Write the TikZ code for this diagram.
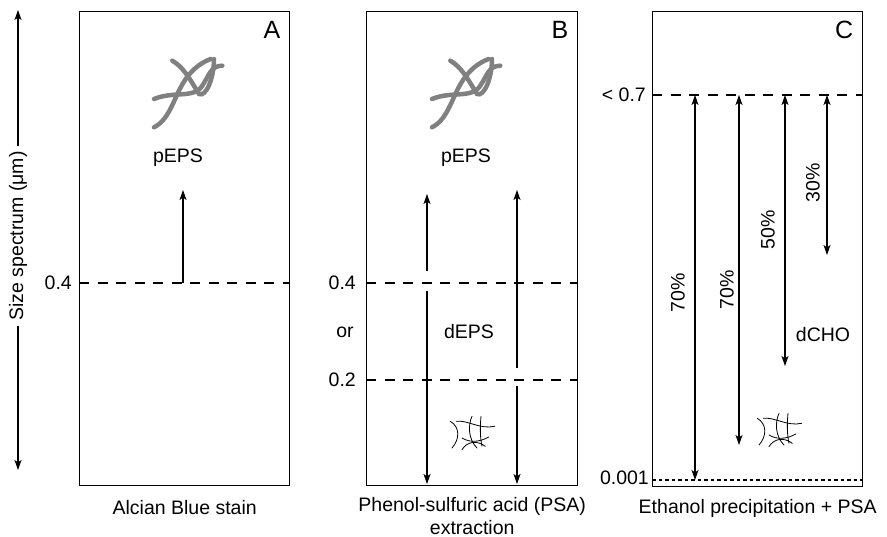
\documentclass[tikz,border=0pt]{standalone}
\usepackage{fontspec}
\setmainfont{Liberation Sans}
\usetikzlibrary{arrows.meta}
\begin{document}
\begin{tikzpicture}[x=1pt,y=-1pt,
  panel/.style={draw=black,line width=1.4pt},
  level/.style={line width=1.3pt,dash pattern=on 10pt off 8.5pt},
  finelevel/.style={line width=1.2pt,dash pattern=on 3.5pt off 3pt},
  tip/.tip={Stealth[length=10pt,width=7pt,inset=2.5pt]},
  arr/.style={line width=1.1pt,-tip},
  darr/.style={line width=1.1pt,tip-tip},
  lbl/.style={font=\fontsize{19.5}{23}\selectfont,inner sep=0pt},
  tag/.style={font=\fontsize{25}{29}\selectfont,inner sep=0pt},
  fibre/.style={draw=black!50,line width=4.5pt,line cap=round},
  mesh/.style={draw=black,line width=0.8pt,line cap=round},
  pics/fibres/.style={code={
    \draw[fibre] (-34,33.3) .. controls (-17.3,25) and (-14,1.7) .. (-2.3,-15)
                 .. controls (6,-26.7) and (14.3,-31.7) .. (22.7,-35);
    \draw[fibre] (-34,5) .. controls (-14,-3.3) and (6,5) .. (14.3,-8.3)
                 .. controls (21,-18.3) and (22.7,-28.3) .. (34.3,-28.3);
    \draw[fibre] (-15.7,-33.3) .. controls (-4,-26.7) and (2.7,-13.3) .. (11,0)
                 .. controls (17.7,3.3) and (26,-15) .. (26,-35);
  }},
  pics/meshwork/.style={code={
    \draw[mesh] (-21.7,-11.7) .. controls (-12,-6) and (-12,6) .. (-20,15);
    \draw[mesh] (-15.7,-11.7) .. controls (-5,-13.3) and (8.3,-3.3) .. (22.7,-6.7);
    \draw[mesh] (0,-16.7) .. controls (-4,-8) and (-4,6) .. (5,15);
    \draw[mesh] (9,-16.7) .. controls (8,-6) and (8,4) .. (10,13.3);
    \draw[mesh] (-10,5) .. controls (-2,10) and (8,9) .. (16.7,4);
    \draw[mesh] (-10,16.7) .. controls (-5,8.3) and (5,7) .. (13.3,13.3);
  }}
]
\useasboundingbox (0,0) rectangle (887,537);

% ---- size axis ----
\coordinate (axtop) at (18,10);
\coordinate (axbot) at (18,470);
\node[lbl,rotate=90] (axlbl) at (18,236) {Size spectrum (μm)};
\draw[arr] ([yshift=5pt]axlbl.east) -- (axtop);
\draw[arr] ([yshift=-5pt]axlbl.west) -- (axbot);

% ---- panel A: Alcian Blue ----
\node[panel,minimum width=210pt,minimum height=474pt,anchor=north west,inner sep=0pt] (boxA) at (79,11) {};
\node[tag,anchor=north east] (tagA) at ([xshift=-10pt,yshift=-10pt]boxA.north east) {A};
\pic at (188,94) {fibres};
\node[lbl] (pA) at (178,158) {pEPS};
\coordinate (A4l) at (boxA.west |- 0,283);
\coordinate (A4r) at (boxA.east |- 0,283);
\draw[level] (A4l) -- (A4r);
\node[lbl,anchor=east] (vA4) at (72,283) {0.4};
\coordinate (aA0) at (183,283);
\coordinate (aA1) at (183,190);
\draw[arr] (aA0) -- (aA1);
\node[lbl] (capA) at (boxA.south |- 0,508) {Alcian Blue stain};

% ---- panel B: phenol-sulfuric acid ----
\node[panel,minimum width=211pt,minimum height=474pt,anchor=north west,inner sep=0pt] (boxB) at (366,11) {};
\node[tag,anchor=north east] (tagB) at ([xshift=-10pt,yshift=-10pt]boxB.north east) {B};
\pic at (466,94) {fibres};
\node[lbl] (pB) at (466,158) {pEPS};
\coordinate (B4l) at (boxB.west |- 0,283);
\coordinate (B4r) at (boxB.east |- 0,283);
\coordinate (B2l) at (boxB.west |- 0,380);
\coordinate (B2r) at (boxB.east |- 0,380);
\draw[level] (B4l) -- (B4r);
\draw[level] (B2l) -- (B2r);
\node[lbl,anchor=east] (vB4) at (356,283) {0.4};
\node[lbl] (orB) at (345,332) {or};
\node[lbl,anchor=east] (vB2) at (356,380) {0.2};
\node[lbl] (dB) at (469,332) {dEPS};
\pic at (472,433) {meshwork};
% left arrow, broken at the 0.4 level
\coordinate (bL0) at (427,194);
\coordinate (bL1) at (427,271);
\coordinate (bL2) at (427,291);
\coordinate (bL3) at (427,484);
\draw[arr] (bL1) -- (bL0);
\draw[arr] (bL2) -- (bL3);
% right arrow, broken at the 0.2 level
\coordinate (bR0) at (517,190);
\coordinate (bR1) at (517,368);
\coordinate (bR2) at (517,386);
\coordinate (bR3) at (517,484);
\draw[arr] (bR1) -- (bR0);
\draw[arr] (bR2) -- (bR3);
\node[lbl,align=center,anchor=north] (capB) at (boxB.south |- 0,497) {Phenol-sulfuric acid (PSA)\\extraction};

% ---- panel C: ethanol precipitation ----
\node[panel,minimum width=210pt,minimum height=475pt,anchor=north west,inner sep=0pt] (boxC) at (652,11) {};
\node[tag,anchor=north east] (tagC) at ([xshift=-10pt,yshift=-10pt]boxC.north east) {C};
\coordinate (C7l) at (boxC.west |- 0,95);
\coordinate (C7r) at (boxC.east |- 0,95);
\coordinate (C1l) at (boxC.west |- 0,480);
\coordinate (C1r) at (boxC.east |- 0,480);
\draw[level] (C7l) -- (C7r);
\draw[finelevel] (C1l) -- (C1r);
\node[lbl,anchor=east] (vC7) at (646,95) {< 0.7};
\node[lbl,anchor=east] (vC1) at (649,478) {0.001};
\coordinate (c1t) at (695,95);  \coordinate (c1b) at (695,480);
\coordinate (c2t) at (739,95);  \coordinate (c2b) at (739,445);
\coordinate (c3t) at (785,95);  \coordinate (c3b) at (785,366);
\coordinate (c4t) at (827,95);  \coordinate (c4b) at (827,255);
\draw[darr] (c1b) -- (c1t);
\draw[darr] (c2b) -- (c2t);
\draw[darr] (c3b) -- (c3t);
\draw[darr] (c4b) -- (c4t);
\node[lbl,rotate=90] (p70a) at (678,293) {70\%};
\node[lbl,rotate=90] (p70b) at (727,290) {70\%};
\node[lbl,rotate=90] (p50) at (768,230) {50\%};
\node[lbl,rotate=90] (p30) at (813,183) {30\%};
\node[lbl] (dC) at (823,335) {dCHO};
\pic at (779,430) {meshwork};
\node[lbl] (capC) at (boxC.south |- 0,508) {Ethanol precipitation + PSA};
\end{tikzpicture}
\end{document}
